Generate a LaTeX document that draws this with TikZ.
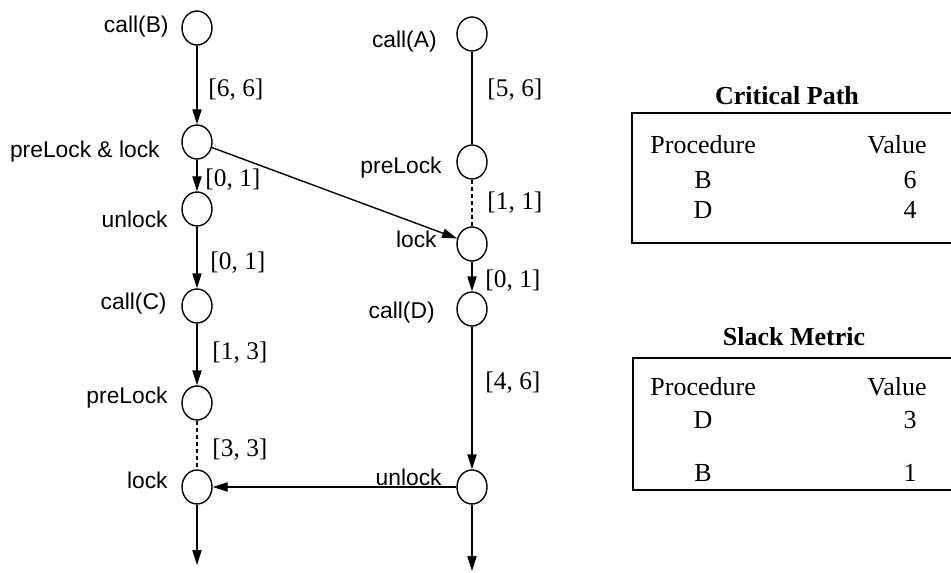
\documentclass[tikz,border=0pt]{standalone}
\usepackage{fontspec}
\setmainfont{Liberation Serif}
\setsansfont{Liberation Sans}
\usetikzlibrary{arrows.meta,shapes.geometric}

\tikzset{
  ev/.style={draw,ellipse,line width=0.7pt,minimum width=15pt,minimum height=17pt,inner sep=0pt},
  lab/.style={font=\sffamily\fontsize{11.4}{13}\selectfont,inner sep=0pt},
  rng/.style={font=\fontsize{12.7}{15}\selectfont,inner sep=0pt,anchor=west},
  tab/.style={font=\fontsize{13}{15}\selectfont,inner sep=0pt},
  arr/.style={line width=0.7pt,-{Triangle[length=7.5pt,width=4.6pt]}},
  ln/.style={line width=0.7pt},
  dots/.style={line width=0.7pt,dash pattern=on 2pt off 1.5pt}
}

\begin{document}
\begin{tikzpicture}[x=0.5pt,y=-0.5pt]
\useasboundingbox (0,0) rectangle (951,572);

% left thread
\node[ev] (cb) at (197,28) {};
\node[ev] (pll) at (197,142) {};
\node[ev] (ulb) at (197,209) {};
\node[ev] (cc) at (197,306) {};
\node[ev] (plc) at (197,403) {};
\node[ev] (lkc) at (197,487) {};
\coordinate (endl) at (197,565);

% right thread
\node[ev] (ca) at (472,34) {};
\node[ev] (pla) at (472,162) {};
\node[ev] (lka) at (472,244) {};
\node[ev] (cd) at (472,309) {};
\node[ev] (uld) at (472,487) {};
\coordinate (endr) at (472,571);

% names of the events
\node[lab,anchor=east] at (169,27) {call(B)};
\node[lab,anchor=east] at (160,152) {preLock \& lock};
\node[lab,anchor=east] at (168,219) {unlock};
\node[lab,anchor=east] at (167,304) {call(C)};
\node[lab,anchor=east] at (168,398) {preLock};
\node[lab,anchor=east] at (168,480) {lock};
\node[lab,anchor=east] at (437,42) {call(A)};
\node[lab,anchor=east] at (442,168) {preLock};
\node[lab,anchor=east] at (437,239) {lock};
\node[lab,anchor=east] at (435,313) {call(D)};
\node[lab,anchor=east] at (442,477) {unlock};

% edges
\draw[arr] (cb) -- (pll);
\draw[arr] (pll) -- (ulb);
\draw[arr] (ulb) -- (cc);
\draw[arr] (cc) -- (plc);
\draw[dots] (plc) -- (lkc);
\draw[arr] (lkc) -- (endl);
\draw[ln] (ca) -- (pla);
\draw[dots] (pla) -- (lka);
\draw[arr] (pll) -- (lka);
\draw[arr] (lka) -- (cd);
\draw[arr] (cd) -- (uld);
\draw[arr] (uld) -- (lkc);
\draw[arr] (uld) -- (endr);

% ranges
\node[rng] at (208,90) {[6, 6]};
\node[rng] at (205,180) {[0, 1]};
\node[rng] at (210,263) {[0, 1]};
\node[rng] at (212,353) {[1, 3]};
\node[rng] at (212,450) {[3, 3]};
\node[rng] at (487,90) {[5, 6]};
\node[rng] at (487,203) {[1, 1]};
\node[rng] at (485,281) {[0, 1]};
\node[rng] at (485,383) {[4, 6]};

% tables
\node[tab,font=\fontsize{13}{15}\selectfont\bfseries] at (787,96) {Critical Path};
\draw[ln] (632,113) rectangle (962,243);
\node[tab,anchor=west] at (650,145) {Procedure};
\node[tab,anchor=west] at (867,145) {Value};
\node[tab] at (703,180) {B};
\node[tab] at (910,180) {6};
\node[tab] at (703,210) {D};
\node[tab] at (910,210) {4};

\node[tab,font=\fontsize{13}{15}\selectfont\bfseries] at (794,337) {Slack Metric};
\draw[ln] (633,358) rectangle (962,490);
\node[tab,anchor=west] at (650,387) {Procedure};
\node[tab,anchor=west] at (867,387) {Value};
\node[tab] at (703,420) {D};
\node[tab] at (910,420) {3};
\node[tab] at (703,473) {B};
\node[tab] at (910,473) {1};

\end{tikzpicture}
\end{document}
